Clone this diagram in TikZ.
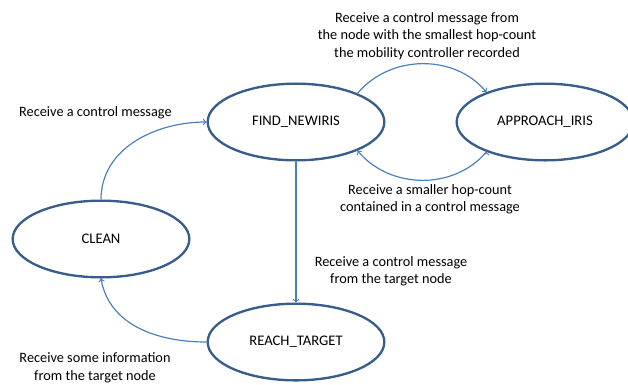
\documentclass[tikz,border=0pt]{standalone}
\usepackage{fontspec}
\setmainfont{Carlito}
\usetikzlibrary{arrows,shapes.geometric,positioning}
\definecolor{stateline}{RGB}{56,93,138}
\definecolor{arrowline}{RGB}{74,126,187}

\begin{document}
\begin{tikzpicture}[x=0.03cm,y=-0.03cm,node distance=6.6cm,
  state node/.style={ellipse,draw=stateline,line width=2pt,
    minimum width=5.3cm,minimum height=2.3cm,inner sep=0pt,
    font=\fontsize{12.5}{15}\selectfont},
  note/.style={align=center,font=\fontsize{12.2}{14.9}\selectfont}]
  \useasboundingbox (0,0) rectangle (628,384);
  \node[state node]   (find)     at (296,122)     {FIND\_NEWIRIS};
  \node[state node]   (approach) at (545,122)     {APPROACH\_IRIS};
  \node[state node]   (reach)    [below of=find]  {REACH\_TARGET};
  \node[state node]   (clean)    at (101,239)     {CLEAN};
  % transitions
  \path[draw=arrowline,line width=1pt,->]
    (find.south) edge (reach.north)
    (clean.north) edge [out=90,in=180] (find.west)
    (reach.west) edge [out=180,in=-80] (clean.south)
    (find.25) edge [out=50,in=130] (approach.153)
    (approach.-153) edge [out=-130,in=-50] (find.-25);
  % conditions
  \node[note] (l1) at (427,36) {Receive a control message from\\the node with the smallest hop-count\\the mobility controller recorded};
  \node[note] (l2) at (430,199) {Receive a smaller hop-count\\contained in a control message};
  \node[note] (l3) at (391,271) {Receive a control message\\from the target node};
  \node[note,anchor=west] (l4) at (15,113) {Receive a control message};
  \node[note] (l5) at (95,368) {Receive some information\\from the target node};
\end{tikzpicture}
\end{document}
